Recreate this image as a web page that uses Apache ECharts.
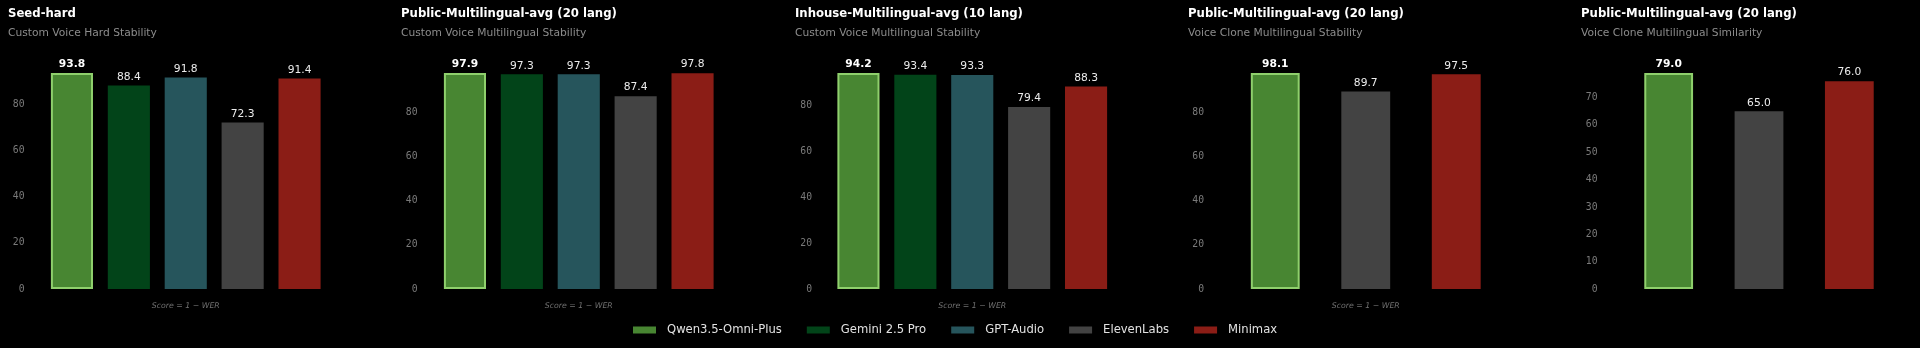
<!DOCTYPE html>
<html>
<head>
<meta charset="utf-8">
<script src="https://cdn.jsdelivr.net/npm/echarts@6/dist/echarts.min.js"></script>
<style>
html,body{margin:0;padding:0;background:#000;}
#chart{width:1920px;height:348px;}
</style>
</head>
<body>
<div id="chart"></div>
<script>
// ---- data ----
const models = ['Qwen3.5-Omni-Plus', 'Gemini 2.5 Pro', 'GPT-Audio', 'ElevenLabs', 'Minimax'];
const panelTitles = ['Seed-hard', 'Public-Multilingual-avg (20 lang)', 'Inhouse-Multilingual-avg (10 lang)', 'Public-Multilingual-avg (20 lang)', 'Public-Multilingual-avg (20 lang)'];
const panelSubtitles = ['Custom Voice Hard Stability', 'Custom Voice Multilingual Stability', 'Custom Voice Multilingual Stability', 'Voice Clone Multilingual Stability', 'Voice Clone Multilingual Similarity'];
const panelXNames = ['Score = 1 \u2212 WER', 'Score = 1 \u2212 WER', 'Score = 1 \u2212 WER', 'Score = 1 \u2212 WER', ''];
const fiveModels = ['Qwen3.5-Omni-Plus', 'Gemini 2.5 Pro', 'GPT-Audio', 'ElevenLabs', 'Minimax'];
const threeModels = ['Qwen3.5-Omni-Plus', 'ElevenLabs', 'Minimax'];
const seedHard = [93.8, 88.4, 91.8, 72.3, 91.4];
const cvPublicStability = [97.9, 97.3, 97.3, 87.4, 97.8];
const cvInhouseStability = [94.2, 93.4, 93.3, 79.4, 88.3];
const vcPublicStability = [98.1, 89.7, 97.5];
const vcPublicSimilarity = [79.0, 65.0, 76.0];
const panelCategories = [fiveModels, fiveModels, fiveModels, threeModels, threeModels];
const panelValues = [seedHard, cvPublicStability, cvInhouseStability, vcPublicStability, vcPublicSimilarity];
const tickIntervals = [20, 20, 20, 20, 10];

// ---- styles / layout ----
const colors = {
  'Qwen3.5-Omni-Plus': '#488632',
  'Gemini 2.5 Pro': '#024419',
  'GPT-Audio': '#26555c',
  'ElevenLabs': '#434343',
  'Minimax': '#8b1d16'
};
const panelX = [8, 401, 795, 1188, 1581];
const gridLefts = [43.5, 436.5, 830, 1230, 1623.5];
const gridWidths = [284.5, 284.5, 284.5, 271.5, 271];
const labelMargins = [19, 19, 18, 26, 26];
const barWidths = ['74%', '74%', '74%', '54%', '54%'];
const gridTop = 73, gridBottomY = 289;

const chart = echarts.init(document.getElementById('chart'));

const titles = [], grids = [], xAxes = [], yAxes = [], series = [];
panelTitles.forEach((t, i) => {
  titles.push({
    text: t, subtext: panelSubtitles[i], left: panelX[i] - 5, top: 3, itemGap: 8,
    textStyle: { color: '#ffffff', fontFamily: 'DejaVu Sans', fontWeight: 'bold', fontSize: 11.7 },
    subtextStyle: { color: '#8c8c8c', fontFamily: 'DejaVu Sans', fontSize: 10.7 }
  });
  grids.push({ left: gridLefts[i], width: gridWidths[i], top: gridTop, height: gridBottomY - gridTop });
  xAxes.push({
    type: 'category', gridIndex: i, data: panelCategories[i],
    axisLine: { show: false }, axisTick: { show: false }, axisLabel: { show: false },
    name: panelXNames[i], nameLocation: 'middle', nameGap: 13,
    nameTextStyle: { color: '#707070', fontFamily: 'DejaVu Sans', fontStyle: 'italic', fontSize: 7.8 }
  });
  const vals = panelValues[i];
  const iv = tickIntervals[i];
  yAxes.push({
    type: 'value', gridIndex: i, min: 0, max: Math.max(...vals), interval: iv,
    splitLine: { show: false }, axisLine: { show: false }, axisTick: { show: false },
    axisLabel: {
      color: '#7a7a7a', fontFamily: 'DejaVu Sans Mono', fontSize: 9.75, margin: labelMargins[i],
      formatter: v => (Math.abs(v / iv - Math.round(v / iv)) < 1e-6 ? String(Math.round(v)) : '')
    }
  });
  panelCategories[i].forEach((m, k) => {
    const isQwen = m === 'Qwen3.5-Omni-Plus';
    series.push({
      type: 'bar', name: m, xAxisIndex: i, yAxisIndex: i,
      data: panelCategories[i].map((c, j) => (j === k ? vals[j] : '-')),
      barWidth: barWidths[i], barGap: '-100%',
      itemStyle: isQwen ? { color: colors[m], borderColor: '#8fd06c', borderWidth: 2 } : { color: colors[m] },
      label: {
        show: true, position: 'top', distance: 3,
        formatter: p => Number(p.value).toFixed(1),
        color: isQwen ? '#ffffff' : '#ececec',
        fontWeight: isQwen ? 'bold' : 'normal',
        fontFamily: 'DejaVu Sans', fontSize: 10.7
      },
      emphasis: { disabled: true },
      animation: false
    });
  });
});

chart.setOption({
  backgroundColor: '#000000',
  animation: false,
  title: titles,
  grid: grids,
  xAxis: xAxes,
  yAxis: yAxes,
  legend: {
    left: 628, top: 319, itemWidth: 23, itemHeight: 7, itemGap: 25, icon: 'rect',
    data: models.map(m => (m === 'Qwen3.5-Omni-Plus' ? { name: m, itemStyle: { borderWidth: 0 } } : { name: m })),
    textStyle: { color: '#e2e2e2', fontFamily: 'DejaVu Sans', fontSize: 11.6, padding: [0, 0, 0, 6] },
    selectedMode: false
  },
  series: series
});
</script>
</body>
</html>
